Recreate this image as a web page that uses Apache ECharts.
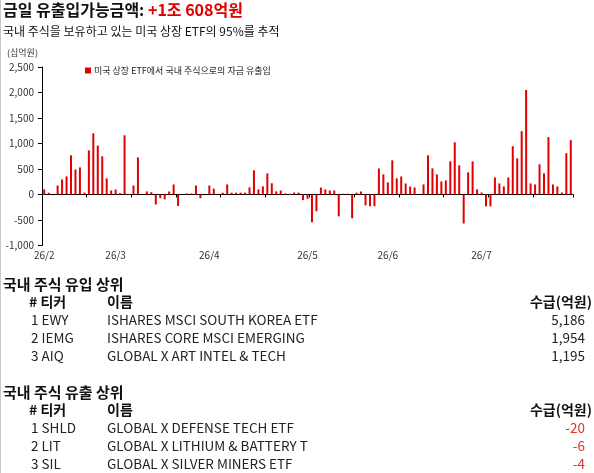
<!DOCTYPE html>
<html><head><meta charset="utf-8">
<script src="https://cdn.jsdelivr.net/npm/echarts@6/dist/echarts.min.js"></script>
<style>html,body{margin:0;padding:0;background:#fff;}#c{width:594px;height:473px;}</style>
</head><body><div id="c"></div>
<script>
// ---- data ----
const titleText = '금일 유출입가능금액: ';
const titleValue = '+1조 608억원';
const subtitleText = '국내 주식을 보유하고 있는 미국 상장 ETF의 95%를 추적';
const unitText = '(십억원)';
const seriesName = '미국 상장 ETF에서 국내 주식으로의 자금 유출입';
const monthLabels = ['26/2', '26/3', '26/4', '26/5', '26/6', '26/7'];
const monthTradingDays = [16, 21, 22, 18, 21, 21];
const flows = [
  100, 35, 0, 177, 295, 354, 768, 492, 531, 39, 866, 1200, 958, 748, 315, 79,
  98, 26, 1161, 10, 177, 728, 0, 60, 45, -195, -72, -95, 59, 197, -225, 0, 20, 20, 177, -72, 0,
  177, 115, 0, 35, 197, 36, 36, 36, 36, 140, 475, 99, 160, 414, 220, 62, 79, 20, 15, 39, 37, -110,
  -85, -545, -328, 135, 99, 79, 79, -428, 15, 15, -466, 36, 59, -213, -230, -230, 510, 395,
  237, 670, 316, 354, 216, 157, 138, 0, 197, 768, 512, 394, 256, 276, 650, 1024, 571, -568, 434, 650, 99,
  39, -233, -233, 335, 217, 158, 335, 946, 709, 1242, 2050, 217, 197, 591, 414, 1125, 197, 158, 39, 809, 1065
];
const yTicks = [-1000, -500, 0, 500, 1000, 1500, 2000, 2500];
const inflowTitle = '국내 주식 유입 상위';
const outflowTitle = '국내 주식 유출 상위';
const tableHeaders = ['# 티커', '이름', '수급(억원)'];
const inflowRank = ['1', '2', '3'];
const inflowTickers = ['EWY', 'IEMG', 'AIQ'];
const inflowNames = ['ISHARES MSCI SOUTH KOREA ETF', 'ISHARES CORE MSCI EMERGING', 'GLOBAL X ART INTEL & TECH'];
const inflowValues = [5186, 1954, 1195];
const outflowRank = ['1', '2', '3'];
const outflowTickers = ['SHLD', 'LIT', 'SIL'];
const outflowNames = ['GLOBAL X DEFENSE TECH ETF', 'GLOBAL X LITHIUM & BATTERY T', 'GLOBAL X SILVER MINERS ETF'];
const outflowValues = [-20, -6, -4];

// ---- build ----
const categories = [];
monthLabels.forEach((m, i) => {
  for (let k = 1; k <= monthTradingDays[i]; k++) categories.push(m + '-' + k);
});
const FONT = '"Noto Sans CJK KR", "Noto Sans", sans-serif';
const RED = '#e00000';
const fmt = v => v.toLocaleString('en-US');

const graphic = [];
graphic.push({type: 'line', shape: {x1: 0.5, y1: 0, x2: 0.5, y2: 473}, style: {stroke: '#c8c8c8', lineWidth: 1}});
graphic.push({type: 'text', left: 3, top: 2, style: {
  text: '{a|' + titleText + '}{b|' + titleValue + '}',
  rich: {a: {fontSize: 16, fontWeight: 'bold', fill: '#111', fontFamily: FONT},
         b: {fontSize: 16, fontWeight: 'bold', fill: RED, fontFamily: FONT}}
}});
graphic.push({type: 'text', left: 3, top: 25, style: {text: subtitleText, fontSize: 12, fill: '#111', fontFamily: FONT}});
graphic.push({type: 'text', left: 7, top: 48, style: {text: unitText, fontSize: 9, fill: '#333', fontFamily: FONT}});

function txt(x, y, text, size, bold, color, align) {
  graphic.push({type: 'text', x: x, y: y, style: {
    text: text, fontSize: size, fontWeight: bold ? 'bold' : 'normal', fill: color,
    fontFamily: FONT, align: align || 'left', verticalAlign: 'middle'}});
}
function addTable(title, cy, ranks, tickers, names, values, valColor) {
  txt(3, cy, title, 15, true, '#111');
  const hy = cy + 18;
  txt(29, hy, tableHeaders[0], 14, true, '#111');
  txt(107, hy, tableHeaders[1], 14, true, '#111');
  txt(592, hy, tableHeaders[2], 14, true, '#111', 'right');
  for (let i = 0; i < ranks.length; i++) {
    const ry = hy + 18 + i * 18;
    txt(31, ry, ranks[i] + ' ' + tickers[i], 13.5, false, '#222');
    txt(107, ry, names[i], 13.5, false, '#222');
    txt(585, ry, fmt(values[i]), 13.5, false, valColor, 'right');
  }
}
addTable(inflowTitle, 284, inflowRank, inflowTickers, inflowNames, inflowValues, '#222');
addTable(outflowTitle, 392, outflowRank, outflowTickers, outflowNames, outflowValues, '#e03030');

const chart = echarts.init(document.getElementById('c'), null, {renderer: 'canvas'});
chart.setOption({
  animation: false,
  textStyle: {fontFamily: FONT},
  grid: {left: 42, right: 21, top: 67, bottom: 227.5, containLabel: false},
  legend: {
    data: [seriesName], left: 80, top: 61, itemWidth: 6, itemHeight: 6, icon: 'rect', itemGap: 4,
    textStyle: {fontSize: 9, color: '#222', fontFamily: FONT, padding: [0, 0, 0, -2]}
  },
  xAxis: [
    {type: 'category', data: categories, position: 'bottom', boundaryGap: true,
     axisLine: {onZero: true, lineStyle: {color: '#000', width: 1}},
     axisTick: {show: true, interval: 9, length: 3, lineStyle: {color: '#000'}},
     axisLabel: {show: false}},
    {type: 'category', data: categories, position: 'bottom', boundaryGap: true,
     axisLine: {show: false, onZero: false}, axisTick: {show: false},
     axisLabel: {show: true, fontSize: 10, color: '#333', margin: 5, fontFamily: FONT,
       interval: (idx, val) => val.split('-')[1] === '1',
       formatter: val => val.split('-')[0]}}
  ],
  yAxis: {
    type: 'value', min: yTicks[0], max: yTicks[yTicks.length - 1], interval: 500,
    axisLine: {show: true, lineStyle: {color: '#000'}},
    axisTick: {show: true, length: 4, lineStyle: {color: '#000'}},
    splitLine: {show: false},
    axisLabel: {fontSize: 10, color: '#333', margin: 8, fontFamily: FONT, formatter: v => fmt(v)}
  },
  series: [{
    name: seriesName, type: 'bar', xAxisIndex: 0, data: flows, barWidth: 2,
    itemStyle: {color: RED}
  }],
  graphic: graphic
});
</script></body></html>
